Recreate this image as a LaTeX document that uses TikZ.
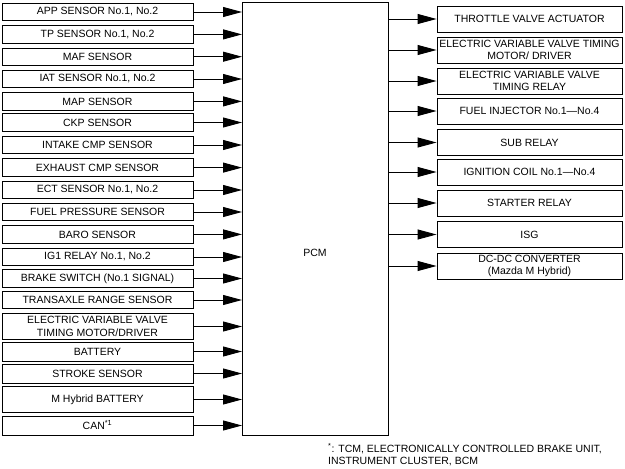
\documentclass[tikz,border=0pt]{standalone}
\usepackage{fontspec}
\setmainfont{Liberation Sans}
\usetikzlibrary{arrows.meta}

\begin{document}
\begin{tikzpicture}[x=1pt, y=-1pt,
  every node/.style={font=\fontsize{10.5}{12.7}\selectfont, align=center, inner sep=0pt},
  sensor/.style={draw, line width=0.9pt, minimum width=191pt, minimum height=17.5pt},
  device/.style={draw, line width=0.9pt, minimum width=185pt, minimum height=26pt},
  sig/.style={line width=0.9pt, -{Triangle[length=19pt, width=10pt]}}]
\useasboundingbox (0,0) rectangle (625,469);

% PCM block
\draw[line width=0.9pt] (242,2) rectangle (388,435);
\coordinate (pcmw) at (242,2);
\coordinate (pcme) at (388,2);
\node (pcm) at (315,253) {PCM};

% Inputs
\node[sensor] (app) at (97.5,12) {APP SENSOR No.1, No.2};
\node[sensor] (tp) at (97.5,34.4) {TP SENSOR No.1, No.2};
\node[sensor] (maf) at (97.5,56.7) {MAF SENSOR};
\node[sensor] (iat) at (97.5,79) {IAT SENSOR No.1, No.2};
\node[sensor] (map) at (97.5,101.4) {MAP SENSOR};
\node[sensor] (ckp) at (97.5,122.5) {CKP SENSOR};
\node[sensor] (icmp) at (97.5,145) {INTAKE CMP SENSOR};
\node[sensor] (ecmp) at (97.5,167.6) {EXHAUST CMP SENSOR};
\node[sensor] (ect) at (97.5,190) {ECT SENSOR No.1, No.2};
\node[sensor] (fps) at (97.5,212) {FUEL PRESSURE SENSOR};
\node[sensor] (baro) at (97.5,234.4) {BARO SENSOR};
\node[sensor] (ig1) at (97.5,257) {IG1 RELAY No.1, No.2};
\node[sensor] (brake) at (97.5,278.5) {BRAKE SWITCH (No.1 SIGNAL)};
\node[sensor] (tr) at (97.5,300) {TRANSAXLE RANGE SENSOR};
\node[sensor, minimum height=25.5pt] (evvtin) at (97.5,326.5) {ELECTRIC VARIABLE VALVE\\TIMING MOTOR/DRIVER};
\node[sensor, minimum height=19pt] (batt) at (97.5,351.5) {BATTERY};
\node[sensor, minimum height=19pt] (stroke) at (97.5,373.5) {STROKE SENSOR};
\node[sensor, minimum height=25.5pt] (mhb) at (97.5,399.5) {M Hybrid BATTERY};
\node[sensor, minimum height=19pt] (can) at (97.5,425.5) {CAN\textsuperscript{*1}};

\draw[sig] (app.east) -- (app.east -| pcmw);
\draw[sig] (tp.east) -- (tp.east -| pcmw);
\draw[sig] (maf.east) -- (maf.east -| pcmw);
\draw[sig] (iat.east) -- (iat.east -| pcmw);
\draw[sig] (map.east) -- (map.east -| pcmw);
\draw[sig] (ckp.east) -- (ckp.east -| pcmw);
\draw[sig] (icmp.east) -- (icmp.east -| pcmw);
\draw[sig] (ecmp.east) -- (ecmp.east -| pcmw);
\draw[sig] (ect.east) -- (ect.east -| pcmw);
\draw[sig] (fps.east) -- (fps.east -| pcmw);
\draw[sig] (baro.east) -- (baro.east -| pcmw);
\draw[sig] (ig1.east) -- (ig1.east -| pcmw);
\draw[sig] (brake.east) -- (brake.east -| pcmw);
\draw[sig] (tr.east) -- (tr.east -| pcmw);
\draw[sig] (evvtin.east) -- (evvtin.east -| pcmw);
\draw[sig] (batt.east) -- (batt.east -| pcmw);
\draw[sig] (stroke.east) -- (stroke.east -| pcmw);
\draw[sig] (mhb.east) -- (mhb.east -| pcmw);
\draw[sig] (can.east) -- (can.east -| pcmw);

% Outputs
\node[device] (tva) at (529.5,19) {THROTTLE VALVE ACTUATOR};
\node[device] (evvtm) at (529.5,50) {ELECTRIC VARIABLE VALVE TIMING\\MOTOR/ DRIVER};
\node[device] (evvtr) at (529.5,81) {ELECTRIC VARIABLE VALVE\\TIMING RELAY};
\node[device] (inj) at (529.5,111) {FUEL INJECTOR No.1—No.4};
\node[device] (sub) at (529.5,142.5) {SUB RELAY};
\node[device] (coil) at (529.5,172) {IGNITION COIL No.1—No.4};
\node[device] (start) at (529.5,203) {STARTER RELAY};
\node[device] (isg) at (529.5,234.5) {ISG};
\node[device] (dcdc) at (529.5,266) {DC-DC CONVERTER\\(Mazda M Hybrid)};

\draw[sig] (tva.west -| pcme) -- (tva.west);
\draw[sig] (evvtm.west -| pcme) -- (evvtm.west);
\draw[sig] (evvtr.west -| pcme) -- (evvtr.west);
\draw[sig] (inj.west -| pcme) -- (inj.west);
\draw[sig] (sub.west -| pcme) -- (sub.west);
\draw[sig] (coil.west -| pcme) -- (coil.west);
\draw[sig] (start.west -| pcme) -- (start.west);
\draw[sig] (isg.west -| pcme) -- (isg.west);
\draw[sig] (dcdc.west -| pcme) -- (dcdc.west);

% Footnote
\node[anchor=north west, align=left] (note) at (328,443) {\textsuperscript{*}: TCM, ELECTRONICALLY CONTROLLED BRAKE UNIT,\\INSTRUMENT CLUSTER, BCM};

\end{tikzpicture}
\end{document}
